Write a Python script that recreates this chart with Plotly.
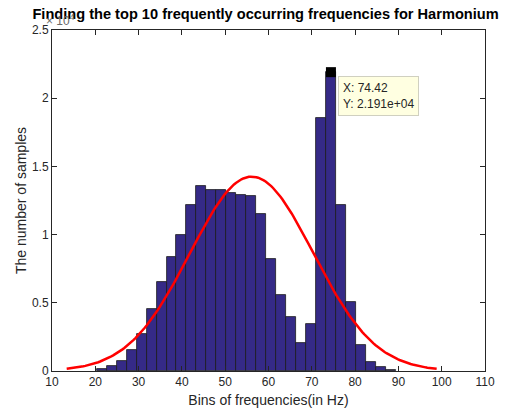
import numpy as np
import plotly.graph_objects as go

# histogram bins (counts in units of 1e4)
bin_centers = [21.5, 23.8, 26.1, 28.4, 30.7, 33.0, 35.3, 37.6, 39.9, 42.2,
               44.5, 46.8, 49.1, 51.4, 53.7, 56.0, 58.3, 60.6, 62.9, 65.2,
               67.5, 69.8, 72.1, 74.42, 76.7, 79.0, 81.3, 83.6, 85.9, 88.2]
counts_e4 = [0.015, 0.036, 0.075, 0.155, 0.27, 0.456, 0.65, 0.835, 0.995, 1.216,
             1.355, 1.328, 1.328, 1.304, 1.289, 1.282, 1.151, 0.82, 0.556, 0.398,
             0.204, 0.344, 1.854, 2.191, 1.214, 0.505, 0.187, 0.065, 0.027, 0.01]
bin_width = 2.3

tip_x = 74.42
tip_y = 2.191

x_ticks = [10, 20, 30, 40, 50, 60, 70, 80, 90, 100, 110]
y_ticks = [0, 0.5, 1, 1.5, 2, 2.5]
y_tick_text = ["0", "0.5", "1", "1.5", "2", "2.5"]

# normal fit, the way histfit does it
c = np.array(counts_e4)
xc = np.array(bin_centers)
mu = (c * xc).sum() / c.sum()
sigma = np.sqrt((c * (xc - mu) ** 2).sum() / c.sum())
area = c.sum() * bin_width
xf = np.linspace(mu - 3 * sigma, mu + 3 * sigma, 200)
yf = area / (sigma * np.sqrt(2 * np.pi)) * np.exp(-0.5 * ((xf - mu) / sigma) ** 2)

axis_col = "#262626"
font = "Liberation Sans, Arial, sans-serif"

fig = go.Figure()
fig.add_trace(go.Bar(
    x=bin_centers, y=counts_e4, width=bin_width,
    marker=dict(color="#352A87", line=dict(color="#1a1a1a", width=0.8)),
    showlegend=False, hoverinfo="x+y",
))
fig.add_trace(go.Scatter(
    x=xf, y=yf, mode="lines", line=dict(color="#FF0000", width=2.5),
    showlegend=False,
))
fig.add_trace(go.Scatter(
    x=[tip_x], y=[tip_y], mode="markers",
    marker=dict(symbol="square", size=10, color="black"),
    showlegend=False,
))

fig.add_annotation(
    x=tip_x, y=tip_y, xref="x", yref="y",
    text="X: %.2f<br>Y: %.3fe+04" % (tip_x, tip_y),
    showarrow=False, xanchor="left", yanchor="top",
    xshift=7, yshift=-4, align="left",
    bgcolor="#FFFFE1", bordercolor="#D0D0C0", borderwidth=1, borderpad=4,
    font=dict(family=font, size=12, color="#262626"),
)
fig.add_annotation(
    x=0, y=1, xref="paper", yref="paper",
    text="× 10<sup>4</sup>", showarrow=False, xanchor="left", yanchor="bottom",
    xshift=-8, yshift=0,
    font=dict(family=font, size=12, color="#6a6a6a"),
)

axis_common = dict(
    showgrid=False, zeroline=False, showline=True, linecolor=axis_col,
    linewidth=1, mirror="ticks", ticks="inside", ticklen=5, tickcolor=axis_col,
    tickfont=dict(family=font, size=12, color=axis_col), automargin=False,
)
fig.update_xaxes(range=[10, 110], tickvals=x_ticks,
                 title=dict(text="Bins of frequencies(in Hz)", standoff=6,
                            font=dict(family=font, size=14, color=axis_col)),
                 **axis_common)
fig.update_yaxes(range=[0, 2.5], tickvals=y_ticks, ticktext=y_tick_text,
                 title=dict(text="The number of samples", standoff=2,
                            font=dict(family=font, size=14, color=axis_col)),
                 **axis_common)

# the page puts the figure 8px in from the top-left corner
fig.update_layout(
    width=508, height=416,
    margin=dict(l=44, r=31, t=22, b=53),
    paper_bgcolor="white", plot_bgcolor="white",
    bargap=0,
    title=dict(text="<b>Finding the top 10 frequently occurring frequencies for Harmonium</b>",
               x=0.507, xanchor="center", y=0.997, yanchor="top",
               font=dict(family=font, size=14.6, color="black"), automargin=False),
)

fig.write_html("out.html")
